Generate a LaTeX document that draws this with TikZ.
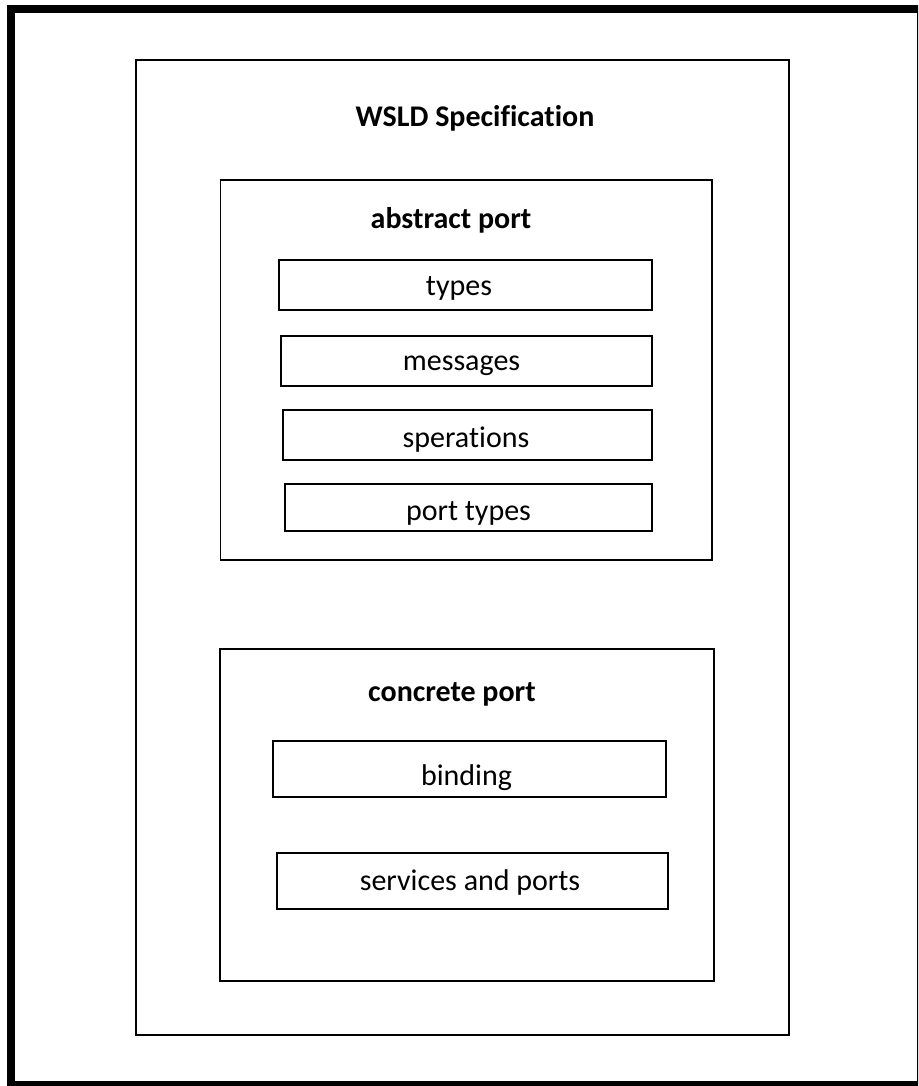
\documentclass[tikz,border=0pt]{standalone}
\usepackage{fontspec}
\setmainfont{Carlito}[Ligatures=NoCommon]
\begin{document}
\begin{tikzpicture}[x=1pt,y=-1pt,
  frame/.style={draw=black,line width=1.7pt,inner sep=0pt,anchor=north west},
  lbl/.style={anchor=base,inner sep=0pt,font=\fontsize{30}{36}\selectfont},
  head/.style={lbl,font=\fontsize{30}{36}\selectfont\bfseries}]
  \useasboundingbox (0,0) rectangle (918,1086);
  \clip (0,0) rectangle (918,1086);
  % heavy page border
  \draw[line width=8pt] (11,9) rectangle (921,1085);

  % specification container
  \node[frame,minimum width=653pt,minimum height=975pt] (spec) at (135,59) {};
  \node[head] (spectitle) at (475,127) {WSLD Specification};

  % abstract part
  \node[frame,minimum width=491.5pt,minimum height=380pt] (abstract) at (219.5,179) {};
  \node[head] (abstracttitle) at (451,228) {abstract port};
  \node[frame,minimum width=373pt,minimum height=50pt] (types) at (278,259) {};
  \node[lbl] (typestxt) at (459,295) {types};
  \node[frame,minimum width=371pt,minimum height=50pt] (messages) at (280,335) {};
  \node[lbl] (messagestxt) at (461.5,370) {messages};
  \node[frame,minimum width=369pt,minimum height=50pt] (operations) at (282,409) {};
  \node[lbl] (operationstxt) at (466,447) {sperations};
  \node[frame,minimum width=367pt,minimum height=47pt] (porttypes) at (284,483) {};
  \node[lbl] (porttypestxt) at (468.5,520) {port types};

  % concrete part
  \node[frame,minimum width=494pt,minimum height=332pt] (concrete) at (219,648) {};
  \node[head] (concretetitle) at (452,701) {concrete port};
  \node[frame,minimum width=393pt,minimum height=56pt] (binding) at (272,740) {};
  \node[lbl] (bindingtxt) at (466.5,785) {binding};
  \node[frame,minimum width=391pt,minimum height=56pt] (services) at (276,852) {};
  \node[lbl] (servicestxt) at (470,890) {services and ports};
\end{tikzpicture}
\end{document}
